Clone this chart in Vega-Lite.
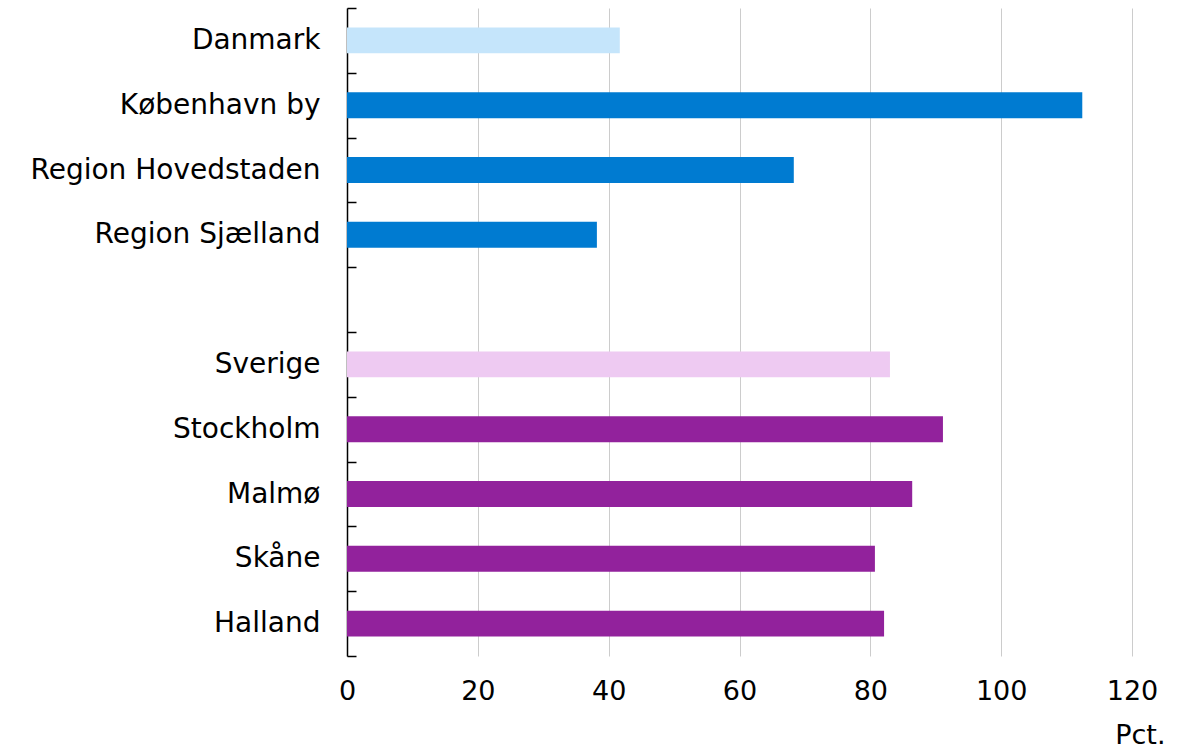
{
  "$schema": "https://vega.github.io/schema/vega-lite/v6.json",
  "width": 785,
  "height": 648,
  "autosize": {"type": "none"},
  "padding": {"left": 347, "top": 8, "right": 59, "bottom": 92},
  "background": "white",
  "config": {
    "view": {"stroke": null},
    "font": "DejaVu Sans",
    "axis": {"labelFont": "DejaVu Sans", "titleFont": "DejaVu Sans", "labelColor": "#000", "titleColor": "#000"}
  },
  "data": {
    "values": [
      {"label": "Danmark", "value": 41.7, "group": "DK total"},
      {"label": "København by", "value": 112.4, "group": "DK"},
      {"label": "Region Hovedstaden", "value": 68.3, "group": "DK"},
      {"label": "Region Sjælland", "value": 38.2, "group": "DK"},
      {"label": "Sverige", "value": 83.0, "group": "SE total"},
      {"label": "Stockholm", "value": 91.1, "group": "SE"},
      {"label": "Malmø", "value": 86.4, "group": "SE"},
      {"label": "Skåne", "value": 80.7, "group": "SE"},
      {"label": "Halland", "value": 82.1, "group": "SE"}
    ]
  },
  "mark": {"type": "bar", "height": {"band": 0.4}},
  "encoding": {
    "y": {
      "field": "label",
      "type": "nominal",
      "scale": {
        "domain": ["Danmark", "København by", "Region Hovedstaden", "Region Sjælland", " ", "Sverige", "Stockholm", "Malmø", "Skåne", "Halland"],
        "paddingInner": 0,
        "paddingOuter": 0
      },
      "axis": {
        "title": null,
        "tickBand": "extent",
        "tickSize": -9,
        "tickColor": "#000",
        "tickWidth": 1.5,
        "domainColor": "#000",
        "domainWidth": 1.5,
        "labelFontSize": 28,
        "labelPadding": 36,
        "labelLimit": 400,
        "grid": false
      }
    },
    "x": {
      "field": "value",
      "type": "quantitative",
      "scale": {"domain": [0, 120], "nice": false},
      "axis": {
        "values": [0, 20, 40, 60, 80, 100, 120],
        "domain": false,
        "ticks": false,
        "grid": true,
        "gridColor": "#cccccc",
        "gridWidth": 1,
        "labelFontSize": 27,
        "labelPadding": 22,
        "labelFlush": false,
        "title": "Pct.",
        "titleFontSize": 27,
        "titleFontWeight": "normal",
        "titleAlign": "right",
        "titleBaseline": "middle",
        "titleAnchor": "end",
        "titleX": 818,
        "titleY": 79
      }
    },
    "color": {
      "field": "group",
      "type": "nominal",
      "scale": {
        "domain": ["DK total", "DK", "SE total", "SE"],
        "range": ["#C5E5FB", "#007BD1", "#EECAF2", "#92229C"]
      },
      "legend": null
    }
  }
}
